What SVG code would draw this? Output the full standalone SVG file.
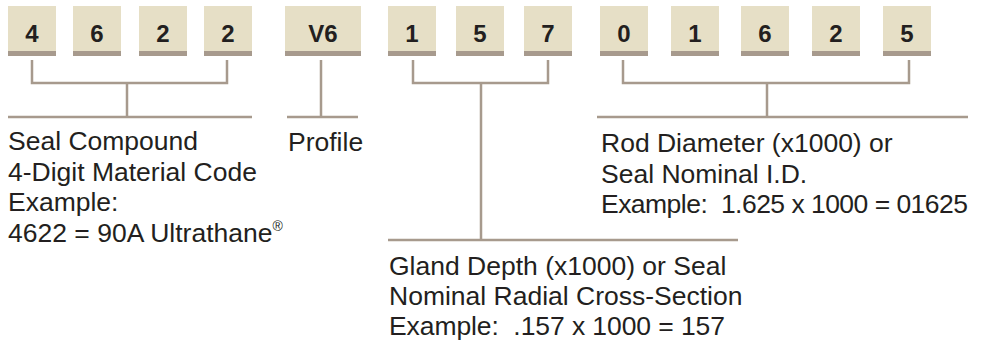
<svg xmlns="http://www.w3.org/2000/svg" width="984" height="345" viewBox="0 0 984 345">
<style>
.box{fill:#e6dfc6}
.bar{fill:#a79a8d}
.digit{font-family:"Liberation Sans",Arial,sans-serif;font-weight:bold;font-size:24px;fill:#231f20;text-anchor:middle}
.lbl{font-family:"Liberation Sans",Arial,sans-serif;font-size:26.5px;fill:#231f20;white-space:pre}
.ln{stroke:#a79a8d;stroke-width:2.5;fill:none}
</style>
<rect width="984" height="345" fill="#ffffff"/>
<g id="d1"><rect class="box" x="8" y="6" width="48" height="45"/><rect class="bar" x="8" y="51" width="48" height="5"/><text class="digit" x="32" y="42">4</text></g>
<g id="d2"><rect class="box" x="73" y="6" width="48" height="45"/><rect class="bar" x="73" y="51" width="48" height="5"/><text class="digit" x="97" y="42">6</text></g>
<g id="d3"><rect class="box" x="139" y="6" width="48" height="45"/><rect class="bar" x="139" y="51" width="48" height="5"/><text class="digit" x="163" y="42">2</text></g>
<g id="d4"><rect class="box" x="204" y="6" width="48" height="45"/><rect class="bar" x="204" y="51" width="48" height="5"/><text class="digit" x="228" y="42">2</text></g>
<g id="p"><rect class="box" x="285" y="6" width="76" height="45"/><rect class="bar" x="285" y="51" width="76" height="5"/><text class="digit" x="323" y="42">V6</text></g>
<g id="g1"><rect class="box" x="388" y="6" width="48" height="45"/><rect class="bar" x="388" y="51" width="48" height="5"/><text class="digit" x="412" y="42">1</text></g>
<g id="g2"><rect class="box" x="456" y="6" width="48" height="45"/><rect class="bar" x="456" y="51" width="48" height="5"/><text class="digit" x="480" y="42">5</text></g>
<g id="g3"><rect class="box" x="524" y="6" width="48" height="45"/><rect class="bar" x="524" y="51" width="48" height="5"/><text class="digit" x="548" y="42">7</text></g>
<g id="r1"><rect class="box" x="600" y="6" width="48" height="45"/><rect class="bar" x="600" y="51" width="48" height="5"/><text class="digit" x="624" y="42">0</text></g>
<g id="r2"><rect class="box" x="671" y="6" width="48" height="45"/><rect class="bar" x="671" y="51" width="48" height="5"/><text class="digit" x="695" y="42">1</text></g>
<g id="r3"><rect class="box" x="741" y="6" width="48" height="45"/><rect class="bar" x="741" y="51" width="48" height="5"/><text class="digit" x="765" y="42">6</text></g>
<g id="r4"><rect class="box" x="812" y="6" width="48" height="45"/><rect class="bar" x="812" y="51" width="48" height="5"/><text class="digit" x="836" y="42">2</text></g>
<g id="r5"><rect class="box" x="883" y="6" width="48" height="45"/><rect class="bar" x="883" y="51" width="48" height="5"/><text class="digit" x="907" y="42">5</text></g>
<g id="connectors">
<path class="ln" d="M32 60V83H227V60M127 83V117M8 117H252"/>
<path class="ln" d="M321 60V117M287 117H358"/>
<path class="ln" d="M413 60V83H548V60M481 83V240M388 240H738"/>
<path class="ln" d="M623 60V83H909V60M767 83V117M597 117H968"/>
</g>
<g id="label-compound">
<text class="lbl" x="8" y="150">Seal Compound</text>
<text class="lbl" x="8" y="181">4-Digit Material Code</text>
<text class="lbl" x="8" y="211">Example:</text>
<text class="lbl" x="8" y="242">4622 = 90A Ultrathane<tspan font-size="14" dy="-11">®</tspan></text>
</g>
<g id="label-profile"><text class="lbl" x="288" y="151">Profile</text></g>
<g id="label-rod">
<text class="lbl" x="601" y="152">Rod Diameter (x1000) or</text>
<text class="lbl" x="601" y="183">Seal Nominal I.D.</text>
<text class="lbl" x="601" y="213" textLength="367" lengthAdjust="spacing">Example:  1.625 x 1000 = 01625</text>
</g>
<g id="label-gland">
<text class="lbl" x="389" y="275">Gland Depth (x1000) or Seal</text>
<text class="lbl" x="389" y="305">Nominal Radial Cross-Section</text>
<text class="lbl" x="389" y="335" textLength="336" lengthAdjust="spacing">Example:  .157 x 1000 = 157</text>
</g>
</svg>
